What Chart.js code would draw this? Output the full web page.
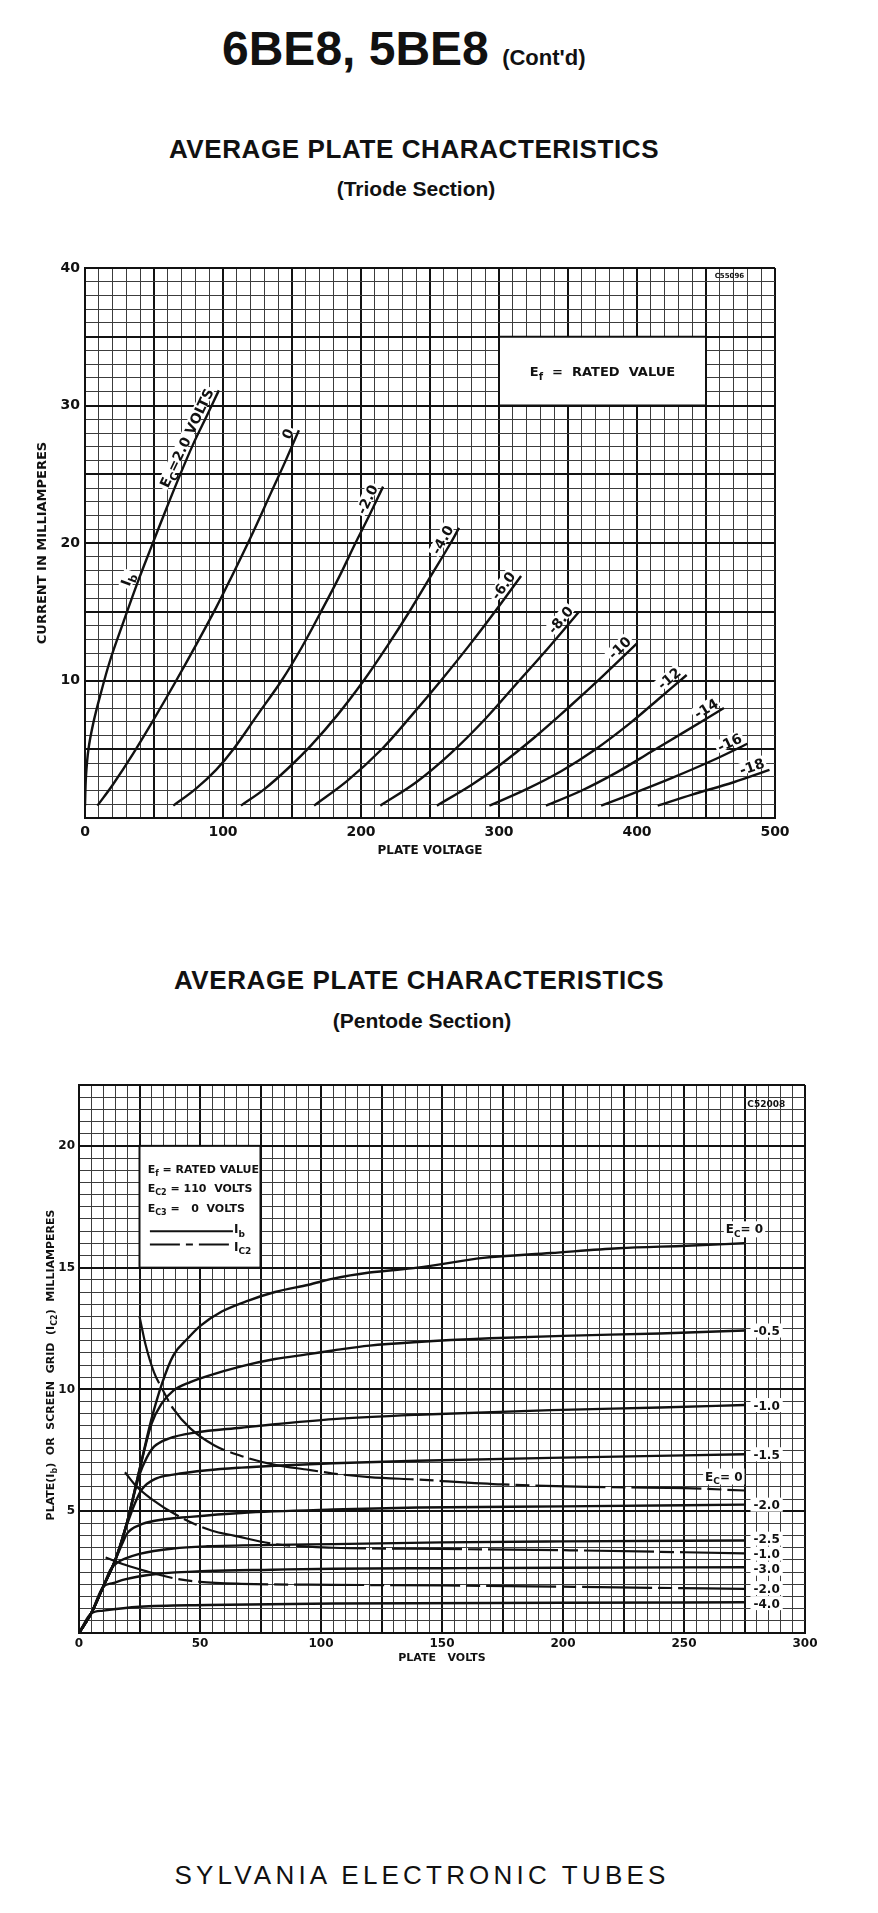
<!DOCTYPE html>
<html>
<head>
<meta charset="utf-8">
<script src="https://cdn.jsdelivr.net/npm/chart.js@4.4.1/dist/chart.umd.min.js"></script>
<style>
  body { margin: 0; background: #fff; width: 878px; height: 1913px; position: relative; overflow: hidden; }
  .t { position: absolute; left: 0; text-align: center; color: #111; font-family: "Liberation Sans", Arial, sans-serif; font-weight: bold; white-space: nowrap; }
  canvas { position: absolute; left: 0; }
</style>
</head>
<body>
<div class="t" style="left:222px;top:25px;font-size:48px;line-height:48px;text-align:left;">6BE8, 5BE8 <span style="font-size:22px;">(Cont'd)</span></div>
<div class="t" style="width:828px;top:136px;font-size:26px;line-height:26px;letter-spacing:0.6px;">AVERAGE PLATE CHARACTERISTICS</div>
<div class="t" style="width:832px;top:178px;font-size:21px;line-height:21px;">(Triode Section)</div>
<div class="t" style="width:838px;top:967px;font-size:26px;line-height:26px;letter-spacing:0.6px;">AVERAGE PLATE CHARACTERISTICS</div>
<div class="t" style="width:844px;top:1010px;font-size:21px;line-height:21px;">(Pentode Section)</div>
<div class="t" style="width:844px;top:1862px;font-size:26px;line-height:26px;font-weight:normal;letter-spacing:4.2px;">SYLVANIA ELECTRONIC TUBES</div>

<canvas id="triode" width="878" height="660" style="top:220px"></canvas>
<canvas id="pentode" width="878" height="640" style="top:1040px"></canvas>

<script>
const FONT = 'DejaVu Sans';

// ---- triode section: plate volts vs plate current (mA), one curve per grid bias
const triodeBias = ['2.0', '0', '-2.0', '-4.0', '-6.0', '-8.0', '-10', '-12', '-14', '-16', '-18'];
const triEcP2 = [[0,0.9],[0.7,3.0],[2.5,5.0],[6,6.9],[11,8.9],[18,11.4],[28,14.3],[38,17.1],[48,19.7],[57,22.0],[67,24.5],[78,27.1],[89,29.4],[97,31.1]];
const triEc0 = [[9,0.9],[20,2.4],[35,4.7],[50,7.2],[65,9.8],[80,12.5],[95,15.3],[105,17.3],[120,20.4],[135,23.7],[145,25.9],[155,28.2]];
const triEcM2 = [[64,0.9],[80,2.1],[95,3.5],[107.5,5.0],[125,7.5],[142.5,10.0],[157,12.4],[171,15.0],[184,17.5],[196,20.0],[206,22.0],[216,24.1]];
const triEcM4 = [[113,0.9],[130,2.1],[147,3.6],[164,5.3],[183,7.5],[202,10.0],[219,12.5],[235,15.0],[250,17.5],[265,20.0],[271,21.1]];
const triEcM6 = [[166,0.9],[190,2.7],[215,5.0],[237,7.5],[258,10.0],[278,12.5],[297,15.0],[316,17.6]];
const triEcM8 = [[214,0.9],[240,2.6],[265,4.7],[290,7.2],[313,9.8],[336,12.4],[358,15.0]];
const triEcM10 = [[255,0.9],[280,2.4],[300,3.8],[325,5.8],[350,8.0],[375,10.3],[400,12.7]];
const triEcM12 = [[293,0.9],[320,2.1],[345,3.4],[370,5.0],[395,6.9],[415,8.6],[436,10.4]];
const triEcM14 = [[334,0.9],[360,2.0],[385,3.3],[410,4.8],[435,6.3],[463,8.0]];
const triEcM16 = [[374,0.9],[400,1.9],[425,2.9],[455,4.2],[480,5.4]];
const triEcM18 = [[415,0.9],[440,1.7],[470,2.6],[496,3.5]];
const triodeCurves = [triEcP2, triEc0, triEcM2, triEcM4, triEcM6, triEcM8, triEcM10, triEcM12, triEcM14, triEcM16, triEcM18];
const triodeXTicks = [0, 100, 200, 300, 400, 500];
const triodeYTicks = [10, 20, 30, 40];

// ---- pentode section: plate current Ib (solid) and screen current Ic2 (dashed)
const pentIbBias = ['0', '-0.5', '-1.0', '-1.5', '-2.0', '-2.5', '-3.0', '-4.0'];
const ibEc0 = [[0,0],[5,0.8],[10,1.9],[15,3.0],[20,4.6],[25,6.7],[30,8.8],[34.5,10.3],[39,11.4],[45,12.1],[50,12.6],[59,13.2],[70,13.65],[81,14.0],[95,14.3],[105,14.55],[120,14.8],[140,15.0],[167,15.4],[195,15.6],[223,15.8],[251,15.9],[275,16.0]];
const ibEcM05 = [[0,0],[5,0.8],[10,1.9],[15,3.0],[20,4.6],[25,6.7],[30,8.6],[34,9.4],[39,9.95],[46,10.3],[53,10.55],[67,10.95],[81,11.25],[95,11.45],[105,11.6],[120,11.8],[140,11.95],[170,12.1],[200,12.2],[240,12.3],[275,12.42]];
const ibEcM10 = [[0,0],[5,0.8],[10,1.9],[15,3.0],[20,4.6],[25,6.5],[28,7.2],[31,7.65],[37,7.98],[48,8.23],[67,8.43],[81,8.57],[105,8.78],[140,8.96],[195,9.15],[240,9.26],[275,9.36]];
const ibEcM15 = [[0,0],[5,0.8],[10,1.9],[15,3.0],[20,4.5],[23,5.3],[26,5.9],[32,6.35],[39,6.5],[53,6.68],[67,6.79],[81,6.87],[105,6.97],[140,7.07],[200,7.2],[275,7.34]];
const ibEcM20 = [[0,0],[5,0.8],[10,1.9],[15,3.0],[18,3.7],[20,4.1],[25,4.43],[32,4.62],[46,4.77],[67,4.93],[105,5.07],[140,5.15],[200,5.2],[275,5.27]];
const ibEcM25 = [[0,0],[5,0.8],[10,1.9],[13,2.6],[16,2.9],[19,3.05],[25,3.25],[39,3.47],[53,3.56],[81,3.62],[105,3.65],[150,3.72],[200,3.76],[275,3.8]];
const ibEcM30 = [[0,0],[5,0.8],[10,1.9],[14,2.05],[19,2.2],[32,2.42],[53,2.55],[80,2.6],[105,2.64],[150,2.66],[200,2.68],[275,2.7]];
const ibEcM40 = [[0,0],[5,0.8],[10,0.92],[25,1.08],[53,1.15],[105,1.21],[200,1.24],[275,1.26]];
const pentIbCurves = [ibEc0, ibEcM05, ibEcM10, ibEcM15, ibEcM20, ibEcM25, ibEcM30, ibEcM40];

const pentIc2Bias = ['0', '-1.0', '-2.0'];
const ic2Ec0 = [[25,13.0],[27.6,11.8],[31,10.7],[34.5,10.0],[39,9.2],[46,8.4],[56,7.7],[67,7.27],[81,6.9],[95,6.7],[105,6.55],[120,6.4],[140,6.3],[175,6.1],[210,6.0],[250,5.95],[275,5.85]];
const ic2EcM10 = [[19,6.6],[23,6.1],[30,5.5],[43,4.7],[55,4.2],[64,4.0],[81,3.65],[95,3.55],[105,3.5],[150,3.45],[200,3.4],[275,3.27]];
const ic2EcM20 = [[11,3.1],[19,2.8],[28,2.53],[39,2.25],[50,2.1],[67,2.02],[105,1.98],[150,1.95],[200,1.9],[275,1.81]];
const pentIc2Curves = [ic2Ec0, ic2EcM10, ic2EcM20];
const pentXTicks = [0, 50, 100, 150, 200, 250, 300];
const pentYTicks = [5, 10, 15, 20];

const INK = '#111';
const IC2_DASH = [70, 6, 14, 6];

// draw text made of normal and subscript parts: [[text, isSub], ...]
function richWidth(ctx, parts, size) {
  let w = 0;
  for (const [t, sub] of parts) {
    ctx.font = `bold ${sub ? Math.round(size * 0.75) : size}px "${FONT}"`;
    w += ctx.measureText(t).width;
  }
  return w;
}
function drawRich(ctx, parts, x, y, size, align) {
  const w = richWidth(ctx, parts, size);
  let cx = align === 'right' ? x - w : align === 'center' ? x - w / 2 : x;
  ctx.textAlign = 'left';
  ctx.textBaseline = 'alphabetic';
  for (const [t, sub] of parts) {
    ctx.font = `bold ${sub ? Math.round(size * 0.75) : size}px "${FONT}"`;
    ctx.fillText(t, cx, sub ? y + size * 0.3 : y);
    cx += ctx.measureText(t).width;
  }
  return w;
}

function gridStyle(heavyEvery, max) {
  const heavy = (v) => Math.abs(v / heavyEvery - Math.round(v / heavyEvery)) < 1e-6 || v === max;
  return {
    drawTicks: false,
    color: (c) => heavy(c.tick.value) ? INK : '#3c3c3c',
    lineWidth: (c) => heavy(c.tick.value) ? 2 : 1,
  };
}

function tickFont(size) {
  return { family: FONT, weight: 'bold', size };
}

// labels laid along the end of each triode curve
const triodeLabels = {
  id: 'triodeLabels',
  afterDatasetsDraw(chart) {
    const { ctx, scales: { x, y } } = chart;
    ctx.save();
    // Ef box
    const bx0 = x.getPixelForValue(300), bx1 = x.getPixelForValue(450);
    const by0 = y.getPixelForValue(35), by1 = y.getPixelForValue(30);
    ctx.fillStyle = '#fff';
    ctx.fillRect(bx0, by0, bx1 - bx0, by1 - by0);
    ctx.strokeStyle = INK; ctx.lineWidth = 2;
    ctx.strokeRect(bx0, by0, bx1 - bx0, by1 - by0);
    ctx.fillStyle = INK;
    drawRich(ctx, [['E', 0], ['f', 1], ['  =  RATED  VALUE', 0]], (bx0 + bx1) / 2, (by0 + by1) / 2 + 5, 13, 'center');
    // drawing number
    ctx.font = `bold 7px "${FONT}"`;
    ctx.textAlign = 'center';
    ctx.fillText('C55096', x.getPixelForValue(467), y.getPixelForValue(39.3));

    triodeBias.forEach((b, i) => {
      const pts = chart.getDatasetMeta(i).data;
      const a = pts[pts.length - 2], e = pts[pts.length - 1];
      const ang = Math.atan2(e.y - a.y, e.x - a.x);
      const parts = i === 0 ? [['E', 0], ['C', 1], ['=2.0 VOLTS', 0]] : [[b, 0]];
      ctx.save();
      ctx.translate(e.x, e.y);
      ctx.rotate(ang);
      const w = richWidth(ctx, parts, 14);
      ctx.fillStyle = '#fff';
      ctx.fillRect(-w - 5, -16, w + 4, 12);
      ctx.fillStyle = INK;
      drawRich(ctx, parts, -3, -4, 14, 'right');
      ctx.restore();
    });

    // Ib tag on the first curve
    const p2 = chart.getDatasetMeta(0).data;
    const k = triEcP2.findIndex(p => p[0] === 38);
    const ang = Math.atan2(p2[k + 1].y - p2[k - 1].y, p2[k + 1].x - p2[k - 1].x);
    ctx.save();
    ctx.translate(p2[k].x, p2[k].y);
    ctx.rotate(ang);
    ctx.fillStyle = '#fff';
    ctx.fillRect(-9, -17, 18, 13);
    ctx.fillStyle = INK;
    drawRich(ctx, [['I', 0], ['b', 1]], 0, -6, 14, 'center');
    ctx.restore();
    ctx.restore();
  }
};

new Chart(document.getElementById('triode'), {
  type: 'scatter',
  data: {
    datasets: triodeCurves.map((pts, i) => ({
      label: 'Ec ' + triodeBias[i],
      data: pts.map(([vx, vy]) => ({ x: vx, y: vy })),
      showLine: true,
      borderColor: INK,
      borderWidth: 2.4,
      pointRadius: 0,
      tension: 0.35,
    })),
  },
  options: {
    responsive: false,
    animation: false,
    layout: { padding: { left: 0, right: 103, top: 48, bottom: 0 } },
    plugins: { legend: { display: false }, tooltip: { enabled: false } },
    scales: {
      x: {
        type: 'linear', min: 0, max: 500,
        ticks: {
          stepSize: 10, autoSkip: false, minRotation: 0, maxRotation: 0, padding: 6, color: INK,
          font: tickFont(14),
          callback: (v) => triodeXTicks.includes(v) ? String(v) : '',
        },
        grid: gridStyle(50, 500),
        border: { color: INK, width: 2 },
        title: { display: true, text: 'PLATE VOLTAGE', color: INK, font: tickFont(12), padding: { top: 0, bottom: 22 } },
        afterFit: (s) => { s.height = 62; },
      },
      y: {
        type: 'linear', min: 0, max: 40,
        ticks: {
          stepSize: 1, autoSkip: false, padding: 5, color: INK,
          font: tickFont(14),
          callback: (v) => triodeYTicks.includes(v) ? String(v) : '',
        },
        grid: gridStyle(5, 40),
        border: { color: INK, width: 2 },
        title: { display: true, text: 'CURRENT IN MILLIAMPERES', color: INK, font: tickFont(13), padding: { top: 35, bottom: 0 } },
        afterFit: (s) => { s.width = 85; },
      },
    },
  },
  plugins: [triodeLabels],
});

// legend box, right-hand labels and y title for the pentode chart
const pentodeLabels = {
  id: 'pentodeLabels',
  afterDatasetsDraw(chart) {
    const { ctx, scales: { x, y }, chartArea } = chart;
    ctx.save();
    const bx0 = x.getPixelForValue(25), bx1 = x.getPixelForValue(75);
    const by0 = y.getPixelForValue(20), by1 = y.getPixelForValue(15);
    ctx.fillStyle = '#fff';
    ctx.fillRect(bx0, by0, bx1 - bx0, by1 - by0);
    ctx.strokeStyle = INK; ctx.lineWidth = 2;
    ctx.strokeRect(bx0, by0, bx1 - bx0, by1 - by0);
    ctx.fillStyle = INK;
    const tx = x.getPixelForValue(28.4);
    drawRich(ctx, [['E', 0], ['f', 1], [' = RATED VALUE', 0]], tx, y.getPixelForValue(19.05) + 4, 11, 'left');
    drawRich(ctx, [['E', 0], ['C2', 1], [' = 110  VOLTS', 0]], tx, y.getPixelForValue(18.27) + 4, 11, 'left');
    drawRich(ctx, [['E', 0], ['C3', 1], [' =   0  VOLTS', 0]], tx, y.getPixelForValue(17.45) + 4, 11, 'left');
    const lx0 = x.getPixelForValue(29.3), lx1 = x.getPixelForValue(63.6);
    const ly1 = y.getPixelForValue(16.5), ly2 = y.getPixelForValue(15.95);
    ctx.strokeStyle = INK; ctx.lineWidth = 2;
    ctx.beginPath(); ctx.moveTo(lx0, ly1); ctx.lineTo(lx1, ly1); ctx.stroke();
    ctx.setLineDash([30, 6, 7, 6]);
    ctx.beginPath(); ctx.moveTo(lx0, ly2); ctx.lineTo(lx1, ly2); ctx.stroke();
    ctx.setLineDash([]);
    drawRich(ctx, [['I', 0], ['b', 1]], lx1 + 1, ly1 + 2, 12, 'left');
    drawRich(ctx, [['I', 0], ['C2', 1]], lx1 + 1, ly2 + 6, 12, 'left');

    ctx.font = `bold 9px "${FONT}"`;
    ctx.textAlign = 'center';
    ctx.fillText('C52008', x.getPixelForValue(284), y.getPixelForValue(21.6));

    const topLabel = (meta, align, dx) => {
      const e = meta.data[meta.data.length - 1];
      const parts = [['E', 0], ['C', 1], ['= 0', 0]];
      const w = richWidth(ctx, parts, 12);
      const x0 = align === 'center' ? e.x + dx - w / 2 : e.x + dx - w;
      ctx.fillStyle = '#fff';
      ctx.fillRect(x0 - 2, e.y - 22, w + 4, 16);
      ctx.fillStyle = INK;
      drawRich(ctx, parts, e.x + dx, e.y - 10, 12, align);
    };

    // right-hand column of bias labels, spread apart where they crowd
    const side = [];
    pentIbBias.forEach((b, i) => {
      const meta = chart.getDatasetMeta(i);
      if (i === 0) topLabel(meta, 'center', 0);
      else { const e = meta.data[meta.data.length - 1]; side.push({ text: b, x: e.x, y: e.y }); }
    });
    pentIc2Bias.forEach((b, i) => {
      const meta = chart.getDatasetMeta(pentIbBias.length + i);
      if (i === 0) topLabel(meta, 'right', -2);
      else { const e = meta.data[meta.data.length - 1]; side.push({ text: b, x: e.x, y: e.y }); }
    });
    side.sort((p, q) => p.y - q.y);
    const gap = 15;
    for (let it = 0; it < 60; it++) {
      for (let i = 1; i < side.length; i++) {
        const d = gap - (side[i].y - side[i - 1].y);
        if (d > 0) { side[i - 1].y -= d / 2; side[i].y += d / 2; }
      }
    }
    side.forEach(s => {
      const parts = [[s.text, 0]];
      const w = richWidth(ctx, parts, 12);
      ctx.fillStyle = '#fff';
      ctx.fillRect(s.x + 6, s.y - 7, w + 6, 14);
      ctx.fillStyle = INK;
      drawRich(ctx, parts, s.x + 9, s.y + 4.5, 12, 'left');
    });

    // y axis title with subscripts
    ctx.save();
    ctx.translate(50, (chartArea.top + chartArea.bottom) / 2 + 6);
    ctx.rotate(-Math.PI / 2);
    ctx.fillStyle = INK;
    drawRich(ctx, [['PLATE(I', 0], ['b', 1], [')  OR  SCREEN  GRID  (I', 0], ['C2', 1], [')  MILLIAMPERES', 0]], 0, 4, 11, 'center');
    ctx.restore();
    ctx.restore();
  }
};

const pentDatasets = pentIbCurves.map((pts, i) => ({
  label: 'Ib Ec ' + pentIbBias[i],
  data: pts.map(([vx, vy]) => ({ x: vx, y: vy })),
  showLine: true, borderColor: INK, borderWidth: 2.4, pointRadius: 0,
  cubicInterpolationMode: 'monotone',
})).concat(pentIc2Curves.map((pts, i) => ({
  label: 'Ic2 Ec ' + pentIc2Bias[i],
  data: pts.map(([vx, vy]) => ({ x: vx, y: vy })),
  showLine: true, borderColor: INK, borderWidth: 2.2, pointRadius: 0,
  borderDash: IC2_DASH,
  cubicInterpolationMode: 'monotone',
})));

new Chart(document.getElementById('pentode'), {
  type: 'scatter',
  data: { datasets: pentDatasets },
  options: {
    responsive: false,
    animation: false,
    layout: { padding: { left: 0, right: 73, top: 45, bottom: 0 } },
    plugins: { legend: { display: false }, tooltip: { enabled: false } },
    scales: {
      x: {
        type: 'linear', min: 0, max: 300,
        ticks: {
          stepSize: 5, autoSkip: false, minRotation: 0, maxRotation: 0, padding: 4, color: INK,
          font: tickFont(12),
          callback: (v) => pentXTicks.includes(v) ? String(v) : '',
        },
        grid: gridStyle(25, 300),
        border: { color: INK, width: 2 },
        title: { display: true, text: 'PLATE   VOLTS', color: INK, font: tickFont(11), padding: { top: 0, bottom: 15 } },
        afterFit: (s) => { s.height = 47; },
      },
      y: {
        type: 'linear', min: 0, max: 22.5,
        ticks: {
          stepSize: 0.5, autoSkip: false, padding: 4, color: INK,
          font: tickFont(12),
          callback: (v) => pentYTicks.includes(v) ? String(v) : '',
        },
        grid: gridStyle(5, 22.5),
        border: { color: INK, width: 2 },
        afterFit: (s) => { s.width = 79; },
      },
    },
  },
  plugins: [pentodeLabels],
});
</script>
</body>
</html>
